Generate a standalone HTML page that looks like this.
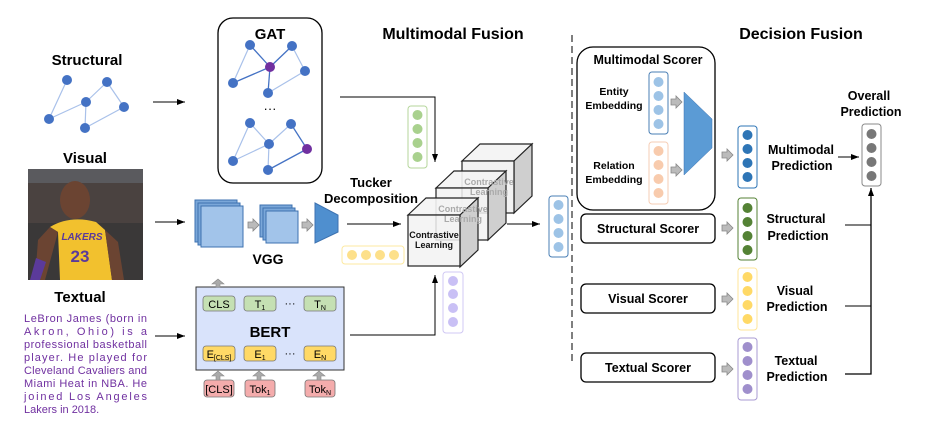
<!DOCTYPE html>
<html><head><meta charset="utf-8"><style>
body{margin:0;background:#fff}
svg{display:block}
text{font-family:"Liberation Sans",Arial,sans-serif}
.b{font-weight:bold}
</style></head><body>
<svg width="927" height="430" viewBox="0 0 927 430" xmlns="http://www.w3.org/2000/svg">
<defs>
<marker id="ar" markerWidth="8" markerHeight="6" refX="8" refY="3" orient="auto" markerUnits="userSpaceOnUse"><path d="M0,0 L8,3 L0,6 z" fill="#000"/></marker>
<g id="garr"><path d="M0,-3 h5 v-3 l6,6 l-6,6 v-3 h-5 z" fill="#bbb" stroke="#888" stroke-width="0.8"/></g>
</defs>

<!-- titles -->
<text x="87" y="65" class="b" font-size="15" text-anchor="middle">Structural</text>
<text x="85" y="163" class="b" font-size="15" text-anchor="middle">Visual</text>
<text x="80" y="302" class="b" font-size="15" text-anchor="middle">Textual</text>
<text x="453" y="39" class="b" font-size="16" text-anchor="middle">Multimodal Fusion</text>
<text x="801" y="39" class="b" font-size="16" text-anchor="middle">Decision Fusion</text>

<!-- structural graph -->
<g stroke="#a9c1ea" stroke-width="1.2">
<line x1="67" y1="80" x2="49" y2="119"/><line x1="49" y1="119" x2="86" y2="102"/><line x1="86" y1="102" x2="107" y2="82"/><line x1="107" y1="82" x2="124" y2="107"/><line x1="86" y1="102" x2="85" y2="128"/><line x1="85" y1="128" x2="124" y2="107"/>
</g>
<g fill="#4472c4"><circle cx="67" cy="80" r="5"/><circle cx="107" cy="82" r="5"/><circle cx="86" cy="102" r="5"/><circle cx="124" cy="107" r="5"/><circle cx="49" cy="119" r="5"/><circle cx="85" cy="128" r="5"/></g>
<line x1="153" y1="102" x2="185" y2="102" stroke="#000" marker-end="url(#ar)"/>

<!-- GAT -->
<rect x="218" y="18" width="104" height="165" rx="15" fill="none" stroke="#000" stroke-width="1.3"/>
<text x="270" y="39" class="b" font-size="15" text-anchor="middle">GAT</text>
<g stroke="#a9c1ea" stroke-width="1.2">
<line x1="250" y1="45" x2="233" y2="83"/><line x1="292" y1="46" x2="305" y2="71"/><line x1="268" y1="93" x2="305" y2="71"/>
<line x1="250" y1="123" x2="233" y2="161"/><line x1="233" y1="161" x2="269" y2="144"/><line x1="250" y1="123" x2="269" y2="144"/><line x1="269" y1="144" x2="291" y2="124"/><line x1="269" y1="144" x2="268" y2="170"/>
</g>
<g stroke="#4472c4" stroke-width="1.3">
<line x1="250" y1="45" x2="270" y2="67"/><line x1="292" y1="46" x2="270" y2="67"/><line x1="233" y1="83" x2="270" y2="67"/><line x1="268" y1="93" x2="270" y2="67"/>
<line x1="291" y1="124" x2="307" y2="149"/><line x1="268" y1="170" x2="307" y2="149"/>
</g>
<g fill="#4472c4"><circle cx="250" cy="45" r="5"/><circle cx="292" cy="46" r="5"/><circle cx="233" cy="83" r="5"/><circle cx="305" cy="71" r="5"/><circle cx="268" cy="93" r="5"/>
<circle cx="250" cy="123" r="5"/><circle cx="291" cy="124" r="5"/><circle cx="269" cy="144" r="5"/><circle cx="233" cy="161" r="5"/><circle cx="268" cy="170" r="5"/></g>
<circle cx="270" cy="67" r="5" fill="#7030a0"/><circle cx="307" cy="149" r="5" fill="#7030a0"/>
<text x="270" y="113" font-size="13" text-anchor="middle">···</text>
<polyline points="340,97 435,97 435,162" fill="none" stroke="#000" marker-end="url(#ar)"/>

<!-- photo -->
<rect x="28" y="169" width="115" height="111" fill="#3a3838"/>
<rect x="28" y="169" width="115" height="14" fill="#5a5a5e"/>
<rect x="28" y="183" width="115" height="40" fill="#4a4240"/>
<ellipse cx="75" cy="200" rx="15" ry="19" fill="#6b4432"/>
<path d="M50,227 Q70,215 96,222 L105,230 L112,280 L60,280 L58,232 Z" fill="#f2c12e"/>
<path d="M38,240 L50,227 L58,232 L45,280 L35,280Z" fill="#6b4432"/>
<path d="M105,230 L118,242 L124,280 L112,280Z" fill="#6b4432"/>
<path d="M36,258 L46,262 L40,280 L30,280Z" fill="#5b3a9a"/>
<text x="82" y="240" font-size="10" font-weight="bold" fill="#5b3a9a" text-anchor="middle" font-style="italic">LAKERS</text>
<text x="80" y="262" font-size="17" font-weight="bold" fill="#5b3a9a" text-anchor="middle">23</text>
<line x1="155" y1="222" x2="185" y2="222" stroke="#000" marker-end="url(#ar)"/>

<!-- text paragraph -->
<g font-size="11" fill="#7030a0">
<text x="24" y="322" textLength="123" lengthAdjust="spacing">LeBron James (born in</text>
<text x="24" y="335" textLength="123" lengthAdjust="spacing">Akron, Ohio) is a</text>
<text x="24" y="348" textLength="123" lengthAdjust="spacing">professional basketball</text>
<text x="24" y="361" textLength="123" lengthAdjust="spacing">player. He played for</text>
<text x="24" y="374" textLength="123" lengthAdjust="spacing">Cleveland Cavaliers and</text>
<text x="24" y="387" textLength="123" lengthAdjust="spacing">Miami Heat in NBA. He</text>
<text x="24" y="400" textLength="123" lengthAdjust="spacing">joined Los Angeles</text>
<text x="24" y="413">Lakers in 2018.</text>
</g>
<line x1="155" y1="336" x2="185" y2="336" stroke="#000" marker-end="url(#ar)"/>

<!-- VGG -->
<g stroke="#3d72b0" stroke-width="1">
<rect x="195" y="200" width="42" height="42" fill="#7aa7d9"/>
<rect x="198" y="203" width="42" height="42" fill="#7aa7d9"/>
<rect x="201" y="206" width="42" height="41" fill="#a2c4ea"/>
<rect x="260" y="205" width="32" height="32" fill="#7aa7d9"/>
<rect x="263" y="208" width="32" height="32" fill="#7aa7d9"/>
<rect x="266" y="211" width="32" height="32" fill="#a2c4ea"/>
</g>
<use href="#garr" x="248" y="225"/>
<use href="#garr" x="302" y="225"/>
<path d="M315,203 L338,215 L338,232 L315,243 Z" fill="#4f8fcf" stroke="#3d72b0"/>
<text x="268" y="264" class="b" font-size="14" text-anchor="middle">VGG</text>
<text x="371" y="187" class="b" font-size="13" text-anchor="middle">Tucker</text>
<text x="371" y="203" class="b" font-size="13" text-anchor="middle">Decomposition</text>
<line x1="347" y1="224" x2="401" y2="224" stroke="#000" marker-end="url(#ar)"/>
<rect x="342" y="246" width="62" height="18" rx="3" fill="none" stroke="#fde9a0"/>
<g fill="#fde08a"><circle cx="352" cy="255" r="5"/><circle cx="366" cy="255" r="5"/><circle cx="380" cy="255" r="5"/><circle cx="394" cy="255" r="5"/></g>
<rect x="408" y="106" width="19" height="62" rx="3" fill="none" stroke="#b5d69b"/>
<g fill="#a9d18e"><circle cx="417.5" cy="115" r="5"/><circle cx="417.5" cy="129" r="5"/><circle cx="417.5" cy="143" r="5"/><circle cx="417.5" cy="157" r="5"/></g>

<!-- BERT -->
<rect x="196" y="287" width="148" height="83" fill="#d9e3fb" stroke="#333" stroke-width="1"/>
<path d="M216,287 v-3 h-4 l6,-5 l6,5 h-4 v3z" fill="#aaa" stroke="#888" stroke-width=".6"/>
<g stroke="#777" stroke-width=".8">
<rect x="203" y="296" width="32" height="15" rx="3" fill="#c5e0b3"/>
<rect x="244" y="296" width="32" height="15" rx="3" fill="#c5e0b3"/>
<rect x="304" y="296" width="32" height="15" rx="3" fill="#c5e0b3"/>
<rect x="203" y="346" width="32" height="15" rx="3" fill="#ffd966"/>
<rect x="244" y="346" width="32" height="15" rx="3" fill="#ffd966"/>
<rect x="304" y="346" width="32" height="15" rx="3" fill="#ffd966"/>
<rect x="204" y="380" width="30" height="17" rx="3" fill="#f4acac"/>
<rect x="245" y="380" width="30" height="17" rx="3" fill="#f4acac"/>
<rect x="305" y="380" width="30" height="17" rx="3" fill="#f4acac"/>
</g>
<g font-size="11" text-anchor="middle">
<text x="219" y="308">CLS</text><text x="260" y="308">T<tspan font-size="7" dy="2">1</tspan></text><text x="320" y="308">T<tspan font-size="7" dy="2">N</tspan></text>
<text x="219" y="358">E<tspan font-size="7" dy="2">[CLS]</tspan></text><text x="260" y="358">E<tspan font-size="7" dy="2">1</tspan></text><text x="320" y="358">E<tspan font-size="7" dy="2">N</tspan></text>
<text x="219" y="393">[CLS]</text><text x="260" y="393">Tok<tspan font-size="7" dy="2">1</tspan></text><text x="320" y="393">Tok<tspan font-size="7" dy="2">N</tspan></text>
<text x="290" y="307">···</text><text x="290" y="357">···</text>
</g>
<text x="270" y="337" class="b" font-size="15" text-anchor="middle">BERT</text>
<g fill="#aaa" stroke="#888" stroke-width=".6">
<path d="M216,380 v-4 h-4 l6,-5 l6,5 h-4 v4z"/><path d="M257,380 v-4 h-4 l6,-5 l6,5 h-4 v4z"/><path d="M317,380 v-4 h-4 l6,-5 l6,5 h-4 v4z"/>
</g>
<polyline points="350,335 435,335 435,275" fill="none" stroke="#000" marker-end="url(#ar)"/>
<rect x="443" y="272" width="20" height="61" rx="3" fill="none" stroke="#d0c8f4"/>
<g fill="#c9c0f5"><circle cx="453" cy="281" r="5"/><circle cx="453" cy="294" r="5"/><circle cx="453" cy="308" r="5"/><circle cx="453" cy="322" r="5"/></g>

<!-- cubes -->
<g stroke="#222" stroke-width="1.2">
<path d="M462,161 l18,-17 h52 l-18,17z" fill="#f4f4f4"/><path d="M514,161 l18,-17 v52 l-18,17z" fill="#cfcfcf"/><rect x="462" y="161" width="52" height="52" fill="#f2f2f2"/>
<path d="M436,188 l18,-17 h52 l-18,17z" fill="#f4f4f4" fill-opacity=".9"/><path d="M488,188 l18,-17 v52 l-18,17z" fill="#cfcfcf"/><rect x="436" y="188" width="52" height="52" fill="#f2f2f2" fill-opacity=".85"/>
<path d="M408,215 l18,-17 h52 l-18,17z" fill="#f4f4f4" fill-opacity=".9"/><path d="M460,215 l18,-17 v52 l-18,17z" fill="#cfcfcf"/><rect x="408" y="215" width="52" height="51" fill="#f2f2f2" fill-opacity=".85"/>
</g>
<g font-size="9" text-anchor="middle" font-weight="bold">
<text x="489" y="185" fill="#aaa">Contrastive</text><text x="489" y="195" fill="#aaa">Learning</text>
<text x="463" y="212" fill="#aaa">Contrastive</text><text x="463" y="222" fill="#aaa">Learning</text>
<text x="434" y="238" fill="#111">Contrastive</text><text x="434" y="248" fill="#111">Learning</text>
</g>
<line x1="507" y1="224" x2="540" y2="224" stroke="#000" marker-end="url(#ar)"/>
<rect x="549" y="196" width="19" height="61" rx="3" fill="none" stroke="#4a7fb5"/>
<g fill="#9dc3e6"><circle cx="558.5" cy="205" r="5"/><circle cx="558.5" cy="219" r="5"/><circle cx="558.5" cy="233" r="5"/><circle cx="558.5" cy="247" r="5"/></g>
<line x1="572" y1="35" x2="572" y2="365" stroke="#555" stroke-width="1.5" stroke-dasharray="7,4"/>

<!-- decision fusion -->
<rect x="577" y="47" width="138" height="163" rx="16" fill="none" stroke="#000" stroke-width="1.3"/>
<text x="648" y="64" class="b" font-size="12.5" text-anchor="middle">Multimodal Scorer</text>
<g font-size="10.5" font-weight="bold" text-anchor="middle"><text x="614" y="95">Entity</text><text x="614" y="109">Embedding</text><text x="614" y="169">Relation</text><text x="614" y="183">Embedding</text></g>
<rect x="649" y="72" width="19" height="62" rx="3" fill="none" stroke="#4a7fb5"/>
<g fill="#9dc3e6"><circle cx="658.5" cy="82" r="5"/><circle cx="658.5" cy="96" r="5"/><circle cx="658.5" cy="110" r="5"/><circle cx="658.5" cy="124" r="5"/></g>
<rect x="649" y="142" width="19" height="62" rx="3" fill="none" stroke="#f6cdb5"/>
<g fill="#f8cbad"><circle cx="658.5" cy="151" r="5"/><circle cx="658.5" cy="165" r="5"/><circle cx="658.5" cy="179" r="5"/><circle cx="658.5" cy="193" r="5"/></g>
<use href="#garr" x="671" y="102"/><use href="#garr" x="671" y="170"/>
<path d="M684,92 L712,119 L712,148 L684,175 Z" fill="#5b9bd5" stroke="#3d72b0" stroke-width=".5"/>
<use href="#garr" x="722" y="155"/>
<rect x="738" y="126" width="19" height="62" rx="3" fill="none" stroke="#2e75b6"/>
<g fill="#2e75b6"><circle cx="747.5" cy="135" r="5"/><circle cx="747.5" cy="149" r="5"/><circle cx="747.5" cy="163" r="5"/><circle cx="747.5" cy="177" r="5"/></g>
<g font-size="12.5" font-weight="bold" text-anchor="middle">
<text x="801" y="154">Multimodal</text><text x="802" y="170">Prediction</text>
<text x="796" y="223">Structural</text><text x="798" y="240">Prediction</text>
<text x="795" y="295">Visual</text><text x="797" y="311">Prediction</text>
<text x="796" y="365">Textual</text><text x="797" y="381">Prediction</text>
<text x="869" y="100">Overall</text><text x="871" y="116">Prediction</text>
</g>
<line x1="838" y1="157" x2="859" y2="157" stroke="#000" marker-end="url(#ar)"/>
<rect x="862" y="124" width="19" height="62" rx="3" fill="none" stroke="#888"/>
<g fill="#777"><circle cx="871.5" cy="134" r="5"/><circle cx="871.5" cy="148" r="5"/><circle cx="871.5" cy="162" r="5"/><circle cx="871.5" cy="176" r="5"/></g>
<polyline points="845,225 871,225" fill="none" stroke="#000"/>
<polyline points="845,306 871,306" fill="none" stroke="#000"/>
<polyline points="845,374 871,374 871,188" fill="none" stroke="#000" stroke-width="1.3" marker-end="url(#ar)"/>

<g stroke="#000" stroke-width="1.3" fill="none">
<rect x="581" y="214" width="134" height="29" rx="5"/>
<rect x="581" y="284" width="134" height="29" rx="5"/>
<rect x="581" y="353" width="134" height="29" rx="5"/>
</g>
<g font-size="12.5" font-weight="bold" text-anchor="middle">
<text x="648" y="233">Structural Scorer</text><text x="648" y="303">Visual Scorer</text><text x="648" y="372">Textual Scorer</text>
</g>
<use href="#garr" x="722" y="228"/><use href="#garr" x="722" y="299"/><use href="#garr" x="722" y="369"/>
<rect x="738" y="198" width="19" height="62" rx="3" fill="none" stroke="#548235"/>
<g fill="#548235"><circle cx="747.5" cy="208" r="5"/><circle cx="747.5" cy="222" r="5"/><circle cx="747.5" cy="236" r="5"/><circle cx="747.5" cy="250" r="5"/></g>
<rect x="738" y="268" width="19" height="62" rx="3" fill="none" stroke="#ffe699"/>
<g fill="#ffd966"><circle cx="747.5" cy="277" r="5"/><circle cx="747.5" cy="291" r="5"/><circle cx="747.5" cy="305" r="5"/><circle cx="747.5" cy="319" r="5"/></g>
<rect x="738" y="338" width="19" height="62" rx="3" fill="none" stroke="#a99bd3"/>
<g fill="#9f8fcc"><circle cx="747.5" cy="347" r="5"/><circle cx="747.5" cy="361" r="5"/><circle cx="747.5" cy="375" r="5"/><circle cx="747.5" cy="389" r="5"/></g>
</svg>
</body></html>
